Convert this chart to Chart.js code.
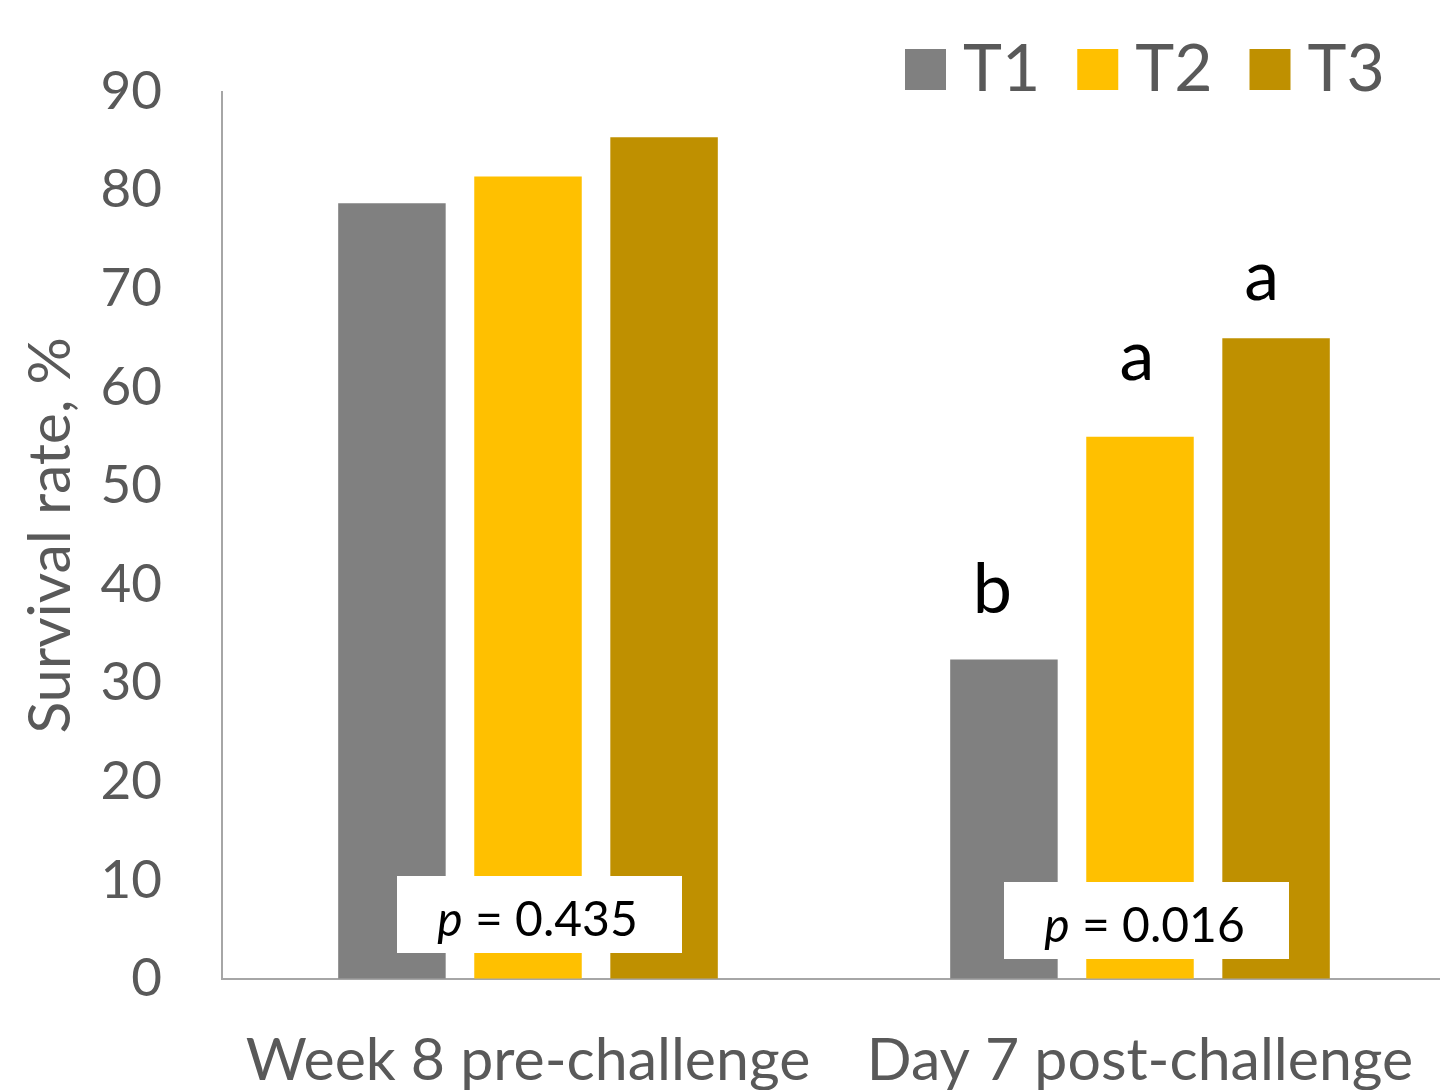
<!DOCTYPE html>
<html>
<head>
<meta charset="utf-8">
<script src="https://cdn.jsdelivr.net/npm/chart.js@4/dist/chart.umd.min.js"></script>
<style>
  html, body { margin: 0; padding: 0; background: #fff; overflow: hidden; }
  #wrap { width: 1446px; height: 1090px; position: relative; }
</style>
</head>
<body>
<div id="wrap"><canvas id="c" width="1446" height="1090"></canvas></div>
<script>
// Survival rate (%) per treatment group
const categories = ['Week 8 pre-challenge', 'Day 7 post-challenge'];
const seriesNames = ['T1', 'T2', 'T3'];
const t1Values = [78.7, 32.4];
const t2Values = [81.4, 55.0];
const t3Values = [85.4, 65.0];

// Significance letters per treatment (blank where none is shown)
const t1Letters = ['', 'b'];
const t2Letters = ['', 'a'];
const t3Letters = ['', 'a'];

// P-values for each time point
const pValues = ['0.435', '0.016'];

// Y axis range
const yMin = 0;
const yMax = 90;
const yStep = 10;

const colors = ['#808080', '#FFC000', '#BF9000'];
const FONT = 'Lato, "Open Sans", sans-serif';
const TEXT_GRAY = '#595959';

const letterSets = [t1Letters, t2Letters, t3Letters];

// Letters placed above the post-challenge bars
const letterPlugin = {
  id: 'sigLetters',
  afterDatasetsDraw(chart) {
    const ctx = chart.ctx;
    const dx = [-11.5, -3, -14.5];
    const gap = [47, 57, 38];
    ctx.save();
    ctx.font = '70px ' + FONT;
    ctx.fillStyle = '#000';
    ctx.textAlign = 'center';
    ctx.textBaseline = 'alphabetic';
    letterSets.forEach((letters, d) => {
      const meta = chart.getDatasetMeta(d);
      letters.forEach((txt, i) => {
        if (!txt) return;
        const el = meta.data[i];
        ctx.fillText(txt, el.x + dx[d], el.y - gap[d]);
      });
    });
    ctx.restore();
  }
};

// White boxes with the p-value of each time point
const pBoxPlugin = {
  id: 'pBoxes',
  afterDatasetsDraw(chart) {
    const ctx = chart.ctx;
    const xs = chart.scales.x;
    const area = chart.chartArea;
    const boxDx = [11.5, 6.5];
    const lift = [26, 20];
    const w = 285, h = 77;
    ctx.save();
    pValues.forEach((pv, i) => {
      const cx = xs.getPixelForValue(i) + boxDx[i];
      const bottom = area.bottom - lift[i];
      const top = bottom - h;
      ctx.fillStyle = '#fff';
      ctx.fillRect(cx - w / 2, top, w, h);
      const italic = 'italic 48px ' + FONT;
      const normal = '48px ' + FONT;
      const rest = ' = ' + pv;
      ctx.font = italic;
      const wp = ctx.measureText('p').width;
      ctx.font = normal;
      const wr = ctx.measureText(rest).width;
      const start = cx - (wp + wr) / 2 - 2;
      const base = top + 60;
      ctx.fillStyle = '#000';
      ctx.textAlign = 'left';
      ctx.textBaseline = 'alphabetic';
      ctx.font = italic;
      ctx.fillText('p', start, base);
      ctx.font = normal;
      ctx.fillText(rest, start + wp, base);
    });
    ctx.restore();
  }
};

// Legend in the upper right corner
const legendPlugin = {
  id: 'cornerLegend',
  afterDraw(chart) {
    const ctx = chart.ctx;
    const box = 41, textGap = 17, itemGap = 37;
    let x = 905;
    const boxTop = 49;
    ctx.save();
    ctx.font = '66px ' + FONT;
    ctx.textBaseline = 'alphabetic';
    ctx.textAlign = 'left';
    chart.data.datasets.forEach((ds) => {
      ctx.fillStyle = ds.backgroundColor;
      ctx.fillRect(x, boxTop, box, box);
      x += box + textGap;
      ctx.fillStyle = TEXT_GRAY;
      ctx.fillText(ds.label, x, 91);
      x += ctx.measureText(ds.label).width + itemGap;
    });
    ctx.restore();
  }
};

const valueSets = [t1Values, t2Values, t3Values];

new Chart(document.getElementById('c'), {
  type: 'bar',
  data: {
    labels: categories,
    datasets: seriesNames.map((name, k) => ({
      label: name,
      data: valueSets[k],
      backgroundColor: colors[k],
      borderWidth: 0,
      categoryPercentage: 0.667,
      barPercentage: 0.79
    }))
  },
  options: {
    responsive: false,
    devicePixelRatio: 1,
    animation: false,
    layout: { padding: { top: 87, right: 0, bottom: 0, left: 0 } },
    plugins: {
      legend: { display: false },
      tooltip: { enabled: false }
    },
    scales: {
      x: {
        grid: { drawOnChartArea: false, drawTicks: false },
        border: { display: true, color: '#a6a6a6', width: 2 },
        ticks: {
          font: { family: FONT, size: 59 },
          color: TEXT_GRAY,
          padding: 47,
          maxRotation: 0,
          autoSkip: false
        },
        afterFit(s) {
          s.height = 111;
          s.paddingLeft = 0;
          s.paddingRight = 0;
        }
      },
      y: {
        min: yMin,
        max: yMax,
        grid: { drawOnChartArea: false, drawTicks: false },
        border: { display: true, color: '#a6a6a6', width: 2 },
        ticks: {
          stepSize: yStep,
          font: { family: FONT, size: 53 },
          color: TEXT_GRAY,
          padding: 60
        },
        title: {
          display: true,
          text: 'Survival rate, %',
          font: { family: FONT, size: 59 },
          color: TEXT_GRAY,
          padding: { top: 16, bottom: 0 }
        },
        afterFit(s) { s.width = 222; }
      }
    }
  },
  plugins: [letterPlugin, pBoxPlugin, legendPlugin]
});
</script>
</body>
</html>
